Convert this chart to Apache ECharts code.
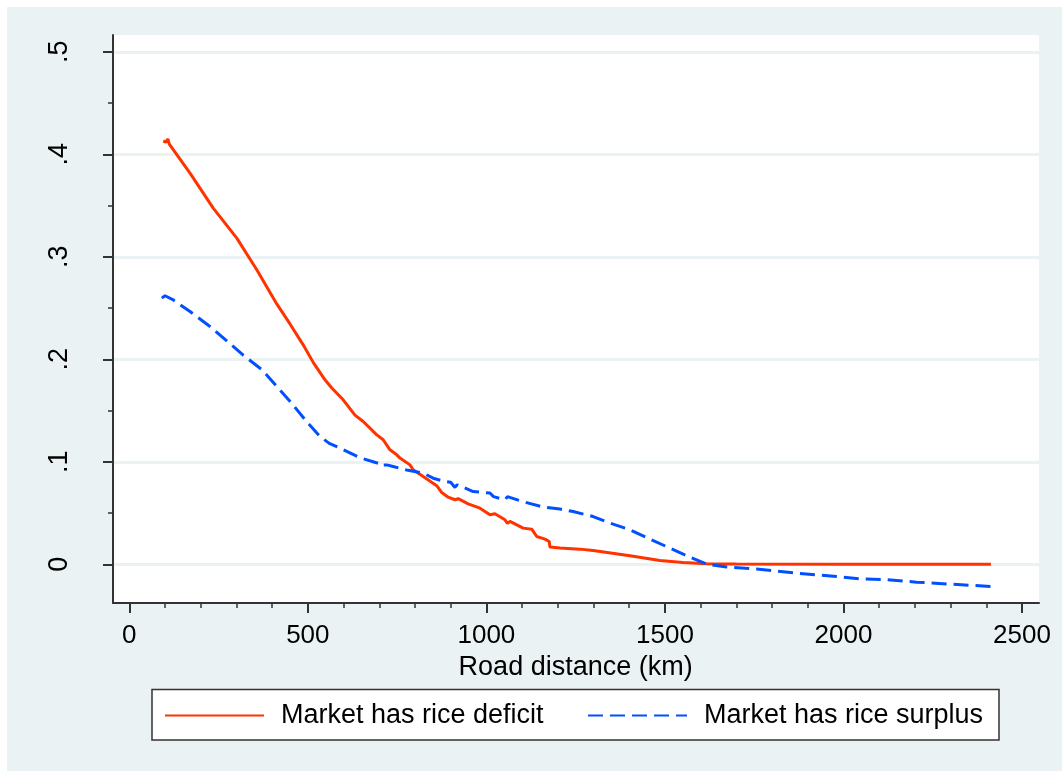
<!DOCTYPE html>
<html>
<head>
<meta charset="utf-8">
<script src="https://cdn.jsdelivr.net/npm/echarts@6/dist/echarts.min.js"></script>
<style>
html,body{margin:0;padding:0;background:#fff;}
#chart{width:1062px;height:771px;
background: linear-gradient(#EAF2F3,#EAF2F3) 7px 7px / 1055px 764px no-repeat, #fff;}
</style>
</head>
<body>
<div id="chart"></div>
<script>
// ---- Data ----
const deficitKm  = [95,103,108,112,170,235,301,357,413,450,487,515,548,567,599,632,655,693,711,730,749,758,786,795,823,861,875,893,912,921,949,982,1010,1024,1052,1059,1066,1103,1127,1141,1164,1176,1178,1206,1262,1299,1402,1486,1550,1617,1700,2000,2413];
const deficitVal = [0.413,0.412,0.415,0.410,0.3817,0.3475,0.3182,0.2873,0.2540,0.2345,0.2141,0.1970,0.1800,0.1720,0.1605,0.1455,0.1393,0.1263,0.1215,0.1117,0.1068,0.1036,0.0970,0.0922,0.0857,0.0767,0.0700,0.0655,0.0630,0.0640,0.0590,0.0548,0.0483,0.0493,0.0434,0.0400,0.0418,0.0353,0.0343,0.0271,0.0246,0.0222,0.0168,0.0158,0.0148,0.0135,0.0083,0.0037,0.0018,0.0005,0.0003,0.0001,0.0];

const surplusKm  = [91,100,123,170,226,273,319,371,413,455,497,534,560,590,646,697,700,721,739,777,823,851,884,900,912,918,963,1010,1015,1020,1052,1059,1094,1159,1206,1243,1299,1346,1402,1458,1514,1570,1617,1673,1757,1869,1981,2046,2111,2205,2298,2415];
const surplusVal = [0.2597,0.2620,0.2580,0.2466,0.2320,0.2180,0.2040,0.1900,0.1735,0.1570,0.1390,0.1247,0.1180,0.1134,0.1040,0.0985,0.0965,0.0970,0.0954,0.0920,0.0890,0.0840,0.0808,0.0800,0.0750,0.0776,0.0710,0.0695,0.0695,0.0660,0.0630,0.0660,0.0620,0.0558,0.0539,0.0515,0.0466,0.0402,0.0337,0.0246,0.0158,0.0070,0.0002,-0.0027,-0.0047,-0.0086,-0.0119,-0.0141,-0.0148,-0.0174,-0.0193,-0.0217];

const seriesNames = ['Market has rice deficit', 'Market has rice surplus'];
const xTickValues = [0, 500, 1000, 1500, 2000, 2500];
const xTickLabels = ['0', '500', '1000', '1500', '2000', '2500'];
const yTickLabels = ['0', '.1', '.2', '.3', '.4', '.5'];
const xTitle = 'Road distance (km)';

// ---- Layout (pixels) ----
const PL = 113, PR = 1039, PT = 35, PB = 603;      // plot region
const X0 = 129.3, X1 = 1022;                        // pixel of x=0 and x=2500
const Y0 = 564.3, Y1 = 51.8;                        // pixel of y=0 and y=0.5
const W = 1062, H = 771;

const xFirst = xTickValues[0], xLast = xTickValues[xTickValues.length - 1];
const xPerPx = (xLast - xFirst) / (X1 - X0);
const xMin = xFirst - (X0 - PL) * xPerPx;
const xMax = xLast + (PR - X1) * xPerPx;
const yPerPx = 0.5 / (Y0 - Y1);
const yMin = 0 - (PB - Y0) * yPerPx;
const yMax = 0.5 + (Y1 - PT) * yPerPx;

const FONT = '"Liberation Sans", Arial, Helvetica, sans-serif';
const AXIS_COLOR = '#333';
const RED = '#ff3300', BLUE = '#0050ff';

const chart = echarts.init(document.getElementById('chart'), null, {renderer: 'canvas'});

chart.setOption({
  animation: false,
  backgroundColor: 'transparent',
  textStyle: {fontFamily: FONT},
  grid: [
    {left: PL, top: PT, right: W - PR, bottom: H - PB, show: true, backgroundColor: '#fff', borderWidth: 0, containLabel: false},
    {left: X0, top: PT, right: W - X1, bottom: H - PB, containLabel: false},
    {left: PL, top: Y1, right: W - PR, bottom: H - Y0, containLabel: false}
  ],
  xAxis: [
    {gridIndex: 0, type: 'value', min: xMin, max: xMax, z: 1,
     axisLine: {show: true, onZero: false, lineStyle: {color: AXIS_COLOR, width: 2}},
     axisTick: {show: false}, axisLabel: {show: false}, splitLine: {show: false}},
    {gridIndex: 1, type: 'value', min: xFirst, max: xLast, interval: 500, z: 1,
     name: xTitle, nameLocation: 'middle', nameGap: 45,
     nameTextStyle: {fontSize: 27, color: '#000', fontFamily: FONT},
     axisLine: {show: false, onZero: false},
     axisTick: {show: true, length: 10, lineStyle: {color: AXIS_COLOR, width: 2}},
     minorTick: {show: true, splitNumber: 5, length: 5, lineStyle: {color: AXIS_COLOR, width: 1.5}},
     axisLabel: {show: true, margin: 20, fontSize: 26, color: '#000', fontFamily: FONT,
       formatter: function (v) { const i = xTickValues.indexOf(Math.round(v)); return i >= 0 ? xTickLabels[i] : ''; }},
     splitLine: {show: false}},
    {gridIndex: 2, type: 'value', min: xMin, max: xMax, show: false}
  ],
  yAxis: [
    {gridIndex: 0, type: 'value', min: yMin, max: yMax, z: 1,
     axisLine: {show: true, onZero: false, lineStyle: {color: AXIS_COLOR, width: 2}},
     axisTick: {show: false}, axisLabel: {show: false}, splitLine: {show: false}},
    {gridIndex: 1, type: 'value', min: yMin, max: yMax, show: false},
    {gridIndex: 2, type: 'value', min: 0, max: 0.5, interval: 0.1, z: 1,
     axisLine: {show: false, onZero: false},
     axisTick: {show: true, length: 10, lineStyle: {color: AXIS_COLOR, width: 2}},
     minorTick: {show: true, splitNumber: 2, length: 5, lineStyle: {color: AXIS_COLOR, width: 1.5}},
     axisLabel: {show: true, rotate: 90, margin: 40, fontSize: 27, color: '#000', fontFamily: FONT,
       formatter: function (v) { return yTickLabels[Math.round(v * 10)]; }},
     splitLine: {show: true, lineStyle: {color: '#EAF2F3', width: 3}}}
  ],
  graphic: [
    {type: 'rect', z: 0, shape: {x: 152, y: 689.5, width: 847, height: 50.5},
     style: {fill: '#fff', stroke: '#333', lineWidth: 1.5}}
  ],
  legend: [
    {data: [seriesNames[0]], left: 164, top: 702, padding: 0, itemWidth: 99, itemHeight: 14,
     itemStyle: {opacity: 0},
     textStyle: {fontSize: 27, color: '#000', fontFamily: FONT, padding: [0, 0, 0, 12]}},
    {data: [seriesNames[1]], left: 587, top: 702, padding: 0, itemWidth: 99, itemHeight: 14,
     itemStyle: {opacity: 0},
     textStyle: {fontSize: 27, color: '#000', fontFamily: FONT, padding: [0, 0, 0, 12]}}
  ],
  series: [
    {name: seriesNames[0], type: 'line', xAxisIndex: 0, yAxisIndex: 0, symbol: 'none', z: 3,
     data: deficitKm.map((x, i) => [x, deficitVal[i]]),
     lineStyle: {color: RED, width: 3}, itemStyle: {color: RED}},
    {name: seriesNames[1], type: 'line', xAxisIndex: 0, yAxisIndex: 0, symbol: 'none', z: 3,
     data: surplusKm.map((x, i) => [x, surplusVal[i]]),
     lineStyle: {color: BLUE, width: 3, type: [15, 7]}, itemStyle: {color: BLUE}}
  ]
});
</script>
</body>
</html>
